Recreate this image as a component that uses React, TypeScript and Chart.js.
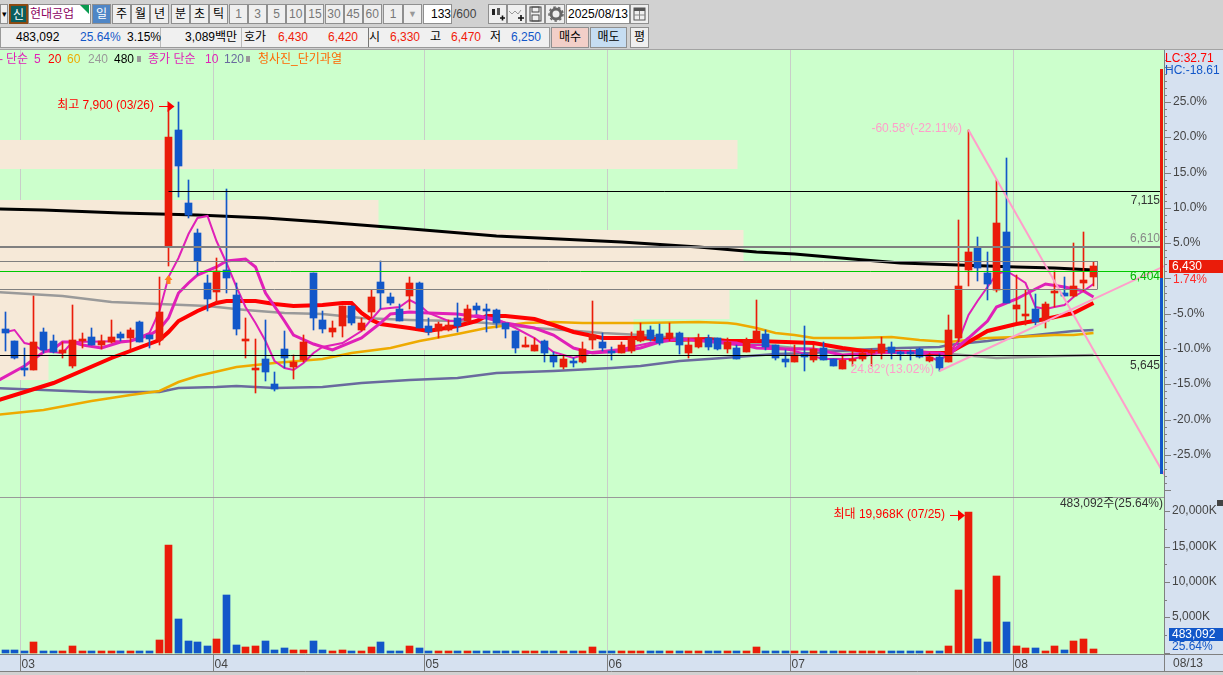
import React, { useEffect, useRef } from 'react';
import { Chart, registerables } from 'chart.js';
Chart.register(...registerables);

const opens = [
5870,5760,5520,5500,5840,5760,5650,5540,5760,5800,
5720,5750,5820,5790,5930,5810,5770,6610,7650,7000,
6730,6280,6200,6400,6170,5760,5500,5600,5370,5690,
5530,5590,6370,5950,5840,5890,6070,5860,6020,6290,
6150,6050,6160,6280,5890,5850,5860,5970,5940,6070,
6040,6040,5920,5850,5710,5670,5760,5630,5530,5580,
5570,5770,5750,5670,5650,5670,5760,5860,5820,5790,
5830,5650,5710,5790,5790,5690,5700,5660,5770,5820,
5720,5600,5570,5640,5590,5700,5600,5510,5580,5600,
5650,5650,5710,5650,5650,5690,5580,5620,5570,5790,
6400,6590,6370,6220,6740,6050,5980,6050,5940,6190,
6190,6160,6280,6330];
const closes = [
5830,5610,5500,5750,5680,5660,5680,5770,5780,5720,
5760,5800,5790,5860,5750,5780,6020,7590,7330,6890,
6480,6140,6390,6320,5870,5780,5510,5480,5330,5610,
5570,5750,5970,5870,5880,6070,5920,5920,6150,6190,
6100,5940,6280,5880,5840,5910,5900,5890,6050,6040,
6030,5920,5870,5700,5720,5720,5650,5570,5600,5560,
5690,5810,5700,5650,5720,5790,5850,5780,5740,5830,
5720,5720,5790,5710,5690,5750,5600,5770,5850,5710,
5610,5570,5630,5620,5690,5590,5540,5590,5600,5650,
5660,5730,5650,5640,5640,5620,5620,5520,5860,6250,
6560,6410,6270,6820,6100,6080,6000,5930,6090,6200,
6160,6250,6310,6430];
const highs = [
6020,5760,5700,6160,5880,5810,5750,6080,5830,5880,
5810,5950,5840,5880,5940,5810,6330,7830,7900,7200,
6760,6350,6500,7120,6280,5970,5780,5950,5480,5850,
5630,5810,6370,6030,5940,6070,6070,5970,6220,6480,
6190,6090,6330,6290,5970,5930,5950,6100,6080,6100,
6090,6050,5920,5850,5800,5790,5770,5660,5630,5610,
5750,6120,5830,5710,5750,5840,5920,5890,5910,5920,
5840,5790,5820,5810,5790,5790,5720,5790,6130,5860,
5720,5680,5720,5890,5720,5750,5600,5630,5670,5680,
5690,5800,5750,5670,5680,5700,5650,5640,5990,6840,
7650,6690,6560,7200,7400,6350,6220,6180,6110,6390,
6330,6640,6740,6470];
const lows = [
5670,5600,5450,5500,5650,5650,5610,5520,5700,5720,
5690,5740,5760,5680,5750,5700,5720,6430,7050,6860,
6350,6030,6100,6190,5810,5610,5290,5400,5310,5520,
5420,5570,5860,5830,5800,5800,5900,5850,5970,6050,
6080,5940,6050,5880,5810,5790,5850,5840,5920,6000,
5840,5880,5790,5650,5710,5670,5570,5530,5510,5530,
5560,5690,5670,5590,5650,5650,5750,5760,5720,5760,
5640,5610,5700,5680,5680,5650,5600,5660,5750,5680,
5590,5530,5570,5490,5570,5590,5540,5510,5540,5580,
5540,5600,5600,5590,5590,5610,5570,5490,5570,5750,
6250,6300,6130,6200,6100,5930,5900,5900,5880,6060,
6160,6150,6210,6250];
const volumes = [
420,420,280,1420,280,280,280,850,280,280,
140,280,140,280,280,280,1700,15290,4810,1560,
1420,850,1980,8210,1130,710,850,1560,420,570,
420,420,1560,420,280,420,280,280,710,1420,
280,280,850,570,280,140,140,280,280,280,
280,280,280,280,140,140,280,140,140,140,
140,710,140,140,140,280,280,100,100,100,
280,100,280,100,100,100,280,100,710,280,
280,100,100,280,100,100,100,100,100,100,
100,100,100,100,100,100,100,100,990,8920,
19968,1980,1420,10900,4250,850,570,570,280,850,
420,1560,1980,483];

const ma5Idx = [0,1,2,3,4,6,7,13,15,16,17,18,19,20,21,22,23,24,25,26,27,28,29,30,31,32,33,35,37,39,41,42,43,44,46,47,49,51,53,55,57,59,61,64,66,68,70,73,76,79,82,85,88,91,95,97,98,99,100,101,102,103,104,105,106,107,108,109,110,111,112,113];
const ma5Val = [5840,5860,5740,5720,5670,5650,5750,5760,5830,6030,6330,6500,6720,6860,6880,6660,6460,6240,6060,5920,5760,5580,5520,5500,5560,5650,5710,5740,5850,6050,6060,6130,6080,6010,5940,5940,5990,5960,5880,5790,5660,5610,5660,5690,5720,5760,5780,5750,5720,5720,5670,5600,5600,5660,5650,5580,5650,5760,5990,6120,6240,6360,6390,6330,6280,6060,6050,6060,6080,6150,6210,6270];
const ma10Idx = [-1,2,4,5,6,7,8,10,12,13,15,16,17,18,19,20,22,23,25,26,27,29,30,32,34,37,39,40,42,44,47,50,52,55,57,59,61,64,66,68,70,73,76,78,81,84,87,90,94,97,98,100,102,103,105,107,108,110,112,113];
const ma10Val = [5390,5540,5660,5690,5750,5750,5720,5700,5750,5760,5810,5870,5970,6190,6280,6350,6420,6480,6490,6420,6190,5940,5810,5730,5680,5790,5920,6000,6020,6010,6000,5970,5920,5880,5810,5700,5650,5670,5700,5750,5780,5760,5740,5700,5690,5690,5630,5650,5660,5650,5630,5790,5940,6060,6140,6230,6270,6240,6210,6150];
const ma20Idx = [-1,5,11,16,17,18,20,22,23,26,28,30,33,35,36,37,38,39,42,44,47,49,50,52,55,57,59,62,66,69,73,75,78,81,84,87,90,94,96,98,100,102,105,108,111,113];
const ma20Val = [5220,5380,5610,5770,5840,5940,6030,6100,6120,6120,6090,6070,6080,6100,6100,6010,5950,5910,5880,5850,5890,5940,5980,5980,5960,5900,5840,5790,5790,5770,5780,5760,5760,5750,5740,5700,5660,5660,5650,5650,5750,5850,5910,5960,6010,6100];
const ma60Idx = [-1,4,9,13,16,18,20,24,28,33,36,40,43,47,50,54,57,60,66,72,75,76,78,80,82,84,88,92,95,98,102,105,109,111,113];
const ma60Val = [5100,5140,5220,5280,5310,5390,5450,5530,5560,5600,5650,5700,5760,5820,5880,5920,5930,5920,5920,5930,5920,5910,5880,5830,5810,5790,5790,5800,5770,5750,5790,5800,5810,5810,5830];
const ma120Idx = [-1,4,9,16,18,22,24,28,33,37,42,47,51,57,63,66,70,73,76,80,84,88,93,97,98,102,105,109,111,113];
const ma120Val = [5340,5320,5300,5300,5340,5350,5360,5340,5350,5380,5410,5430,5470,5490,5520,5540,5580,5600,5620,5640,5650,5680,5700,5710,5720,5760,5800,5830,5850,5860];
const ma240Idx = [-1,6,11,16,21,25,29,33,37,42,47,50,55,58,62,66,71,77,82,87,92,97,103,106,113];
const ma240Val = [6200,6160,6110,6090,6070,6040,6010,6000,5970,5950,5940,5920,5880,5860,5830,5810,5780,5740,5700,5670,5660,5650,5610,5620,5630];
const ma480Idx = [-1,4,12,20,27,33,41,51,64,72,78,82,88,93,99,105,109,113];
const ma480Val = [6940,6930,6910,6890,6860,6830,6770,6700,6650,6600,6560,6540,6490,6460,6440,6420,6410,6400];

const trendDownIdx = [100, 120.4];
const trendDownVal = [7650, 4560];
const trendUpIdx = [97, 120.4];
const trendUpVal = [5490, 6436];

const monthPos = [1.55, 21.6, 43.55, 62.55, 81.6, 104.7];
const monthLabels = ['03', '04', '05', '06', '07', '08'];

// [left idx, right idx, upper price, lower price]
const zoneBoxes = [
  [-1, 76.1, 7560, 7300],
  [-1, 38.8, 7020, 6755],
  [-1, 76.7, 6755, 6480],
  [-1, 113.4, 6480, 6225],
  [-1, 75.2, 6225, 5960],
  [-1, 65.3, 5960, 5682],
  [-1, 4.5, 5682, 5413],
];

const X_MIN = -0.478, X_MAX = 120.4;
const BASE_PRICE = 6320;
const P_MAX = 8367, P_MIN = 4362;
const V_MAX = 22025, V_MIN = -354;
const pctTicks: number[] = [];
for (let p = 31; p >= -30; p--) pctTicks.push(p);
const volTicks: number[] = [];
for (let v = 0; v <= 22500; v += 2500) volTicks.push(v);

const RED = '#ea1c0a', BLUE = '#1257c9', GREEN_BG = '#ccffcc', BEIGE = '#f6e9d8', AXIS_BG = '#d6e1f0';
const PINK = '#ff9ecb', MAG = '#e020b8';
const FONT = '12px "Liberation Sans","Noto Sans CJK KR"';
const CSSFONT = '"Liberation Sans","Noto Sans CJK KR",sans-serif';
const GRID = '#c9cdc9';
const AXIS_LINE = '#808080';

const pts = (idx: number[], val: number[]) => idx.map((x, k) => ({ x, y: val[k] }));
const line = (idx: number[], val: number[], color: string, width: number, order: number) => ({
  type: 'line', data: pts(idx, val), borderColor: color, borderWidth: width,
  pointRadius: 0, tension: 0, order, fill: false,
});

function snap(s: any, extra: number) {
  if (s.__snapped) return;
  s.__snapped = true;
  const f = s.getPixelForValue.bind(s);
  s.getPixelForValue = (v: any, i: any) => Math.round(f(v, i)) + extra;
}
function noPad(s: any) { s.paddingTop = 0; s.paddingBottom = 0; s.paddingLeft = 0; s.paddingRight = 0; }

function text(ctx: any, t: string, x: number, y: number, color: string, align = 'left') {
  ctx.save();
  ctx.font = FONT; ctx.fillStyle = color; ctx.textAlign = align; ctx.textBaseline = 'middle';
  ctx.fillText(t, x, y);
  ctx.restore();
}
function hline(ctx: any, x1: number, x2: number, y: number, color: string, w: number) {
  ctx.save();
  ctx.strokeStyle = color; ctx.lineWidth = w; ctx.beginPath();
  const yy = w % 2 ? y + 0.5 : y;
  ctx.moveTo(x1, yy); ctx.lineTo(x2, yy); ctx.stroke(); ctx.restore();
}
function arrowRight(ctx: any, x1: number, x2: number, y: number, color: string) {
  ctx.save();
  ctx.strokeStyle = color; ctx.fillStyle = color; ctx.lineWidth = 1;
  ctx.beginPath(); ctx.moveTo(x1, y + 0.5); ctx.lineTo(x2 - 6, y + 0.5); ctx.stroke();
  ctx.beginPath(); ctx.moveTo(x2, y + 0.5); ctx.lineTo(x2 - 7, y - 5); ctx.lineTo(x2 - 7, y + 6); ctx.closePath(); ctx.fill();
  ctx.restore();
}

const pricePanelPlugin = {
  id: 'pricePanel',
  beforeDraw(c: any) {
    const { ctx, chartArea: a, width, height } = c;
    ctx.save();
    ctx.fillStyle = AXIS_BG; ctx.fillRect(a.right, 0, width - a.right, height);
    ctx.fillStyle = GREEN_BG; ctx.fillRect(0, 0, a.right, height);
    ctx.restore();
  },
  beforeDatasetsDraw(c: any) {
    const { ctx, scales: { x, y } } = c;
    ctx.save();
    ctx.fillStyle = BEIGE;
    zoneBoxes.forEach(([l, r, t, b]) => {
      const x1 = Math.max(0, x.getPixelForValue(l)), x2 = x.getPixelForValue(r);
      const y1 = y.getPixelForValue(t), y2 = y.getPixelForValue(b);
      ctx.fillRect(x1, y1, x2 - x1, y2 - y1);
    });
    ctx.restore();
  },
  afterDatasetsDraw(c: any) {
    const { ctx, chartArea: a, scales: { x, y } } = c;
    // horizontal levels
    hline(ctx, 0, a.right - 3, y.getPixelForValue(6600), '#808080', 2);
    hline(ctx, 0, x.getPixelForValue(113.4), y.getPixelForValue(6480), '#808080', 1);
    hline(ctx, 0, x.getPixelForValue(113.4), y.getPixelForValue(6225), '#808080', 1);
    hline(ctx, 0, a.right - 3, y.getPixelForValue(6390), '#00c800', 1);
    hline(ctx, x.getPixelForValue(17), a.right - 3, y.getPixelForValue(7100), '#000000', 1);
    hline(ctx, 0, a.right - 3, y.getPixelForValue(5635), '#000000', 1);
    ctx.save();
    ctx.strokeStyle = '#808080'; ctx.lineWidth = 1;
    const bx = x.getPixelForValue(113.4);
    ctx.beginPath(); ctx.moveTo(bx, y.getPixelForValue(6480)); ctx.lineTo(bx, y.getPixelForValue(6225)); ctx.stroke();
    ctx.restore();

    // range rail
    ctx.save();
    const base = y.getPixelForValue(BASE_PRICE);
    ctx.fillStyle = RED; ctx.fillRect(1160, y.getPixelForValue(8196), 3, base - y.getPixelForValue(8196));
    ctx.fillStyle = BLUE; ctx.fillRect(1160, base, 3, y.getPixelForValue(4568) - base);
    ctx.restore();

    // level labels
    text(ctx, '7,115', 1160, y.getPixelForValue(7011), '#333333', 'right');
    text(ctx, '6,610', 1160, y.getPixelForValue(6670), '#888888', 'right');
    text(ctx, '6,404', 1160, y.getPixelForValue(6330), '#00b400', 'right');
    text(ctx, '5,645', 1160, y.getPixelForValue(5538), '#333333', 'right');

    // annotations
    text(ctx, '최고 7,900 (03/26)', 154, y.getPixelForValue(7864), '#ff0000', 'right');
    arrowRight(ctx, 159, x.getPixelForValue(17.6), y.getPixelForValue(7864), '#ff0000');
    text(ctx, '-60.58°(-22.11%)', 962, y.getPixelForValue(7658), PINK, 'right');
    text(ctx, '24.82°(13.02%)', 934, y.getPixelForValue(5500), PINK, 'right');

    // orange arrow marker
    const mx = x.getPixelForValue(17), my = y.getPixelForValue(6310);
    ctx.save();
    ctx.fillStyle = '#ff7f1e';
    ctx.beginPath();
    ctx.moveTo(mx, my - 5); ctx.lineTo(mx + 4, my); ctx.lineTo(mx + 2, my); ctx.lineTo(mx + 2, my + 4);
    ctx.lineTo(mx - 2, my + 4); ctx.lineTo(mx - 2, my); ctx.lineTo(mx - 4, my); ctx.closePath(); ctx.fill();
    ctx.restore();
  },
  afterDraw(c: any) {
    const { ctx, chartArea: a, scales: { y }, width } = c;
    ctx.save();
    ctx.strokeStyle = AXIS_LINE; ctx.lineWidth = 1;
    pctTicks.forEach((p) => {
      const py = y.getPixelForValue(BASE_PRICE * (1 + p / 100)) + 0.5;
      const len = p % 5 === 0 ? 7 : 3;
      ctx.beginPath(); ctx.moveTo(a.right, py); ctx.lineTo(a.right + len, py); ctx.stroke();
    });
    ctx.restore();
    // current price tag
    const tagY = y.getPixelForValue(6430);
    ctx.save();
    ctx.fillStyle = RED; ctx.fillRect(1169, tagY - 6, width - 1169, 13);
    ctx.restore();
    text(ctx, '6,430', 1172, tagY + 0.5, '#ffffff');
    text(ctx, '1.74%', 1173, tagY + 14, '#ff2a2a');
    text(ctx, 'LC:32.71', 1165, 8.5, '#ff0000');
    text(ctx, 'HC:-18.61', 1165, 20.5, '#1257c9');
  },
};

const volumePanelPlugin = {
  id: 'volumePanel',
  beforeDraw(c: any) {
    const { ctx, chartArea: a, width, height } = c;
    ctx.save();
    ctx.fillStyle = AXIS_BG; ctx.fillRect(0, 0, width, height);
    ctx.fillStyle = GREEN_BG; ctx.fillRect(0, 0, a.right, a.bottom);
    ctx.restore();
  },
  afterDraw(c: any) {
    const { ctx, chartArea: a, scales: { x, y }, width, height } = c;
    hline(ctx, 0, a.right, 0, '#999999', 1);
    hline(ctx, 0, width, a.bottom - 1, '#808080', 1);
    hline(ctx, 0, width, height - 1, '#808080', 1);
    ctx.save();
    ctx.strokeStyle = AXIS_LINE; ctx.lineWidth = 1;
    monthPos.forEach((m) => {
      const px = x.getPixelForValue(m);
      ctx.beginPath(); ctx.moveTo(px, a.bottom); ctx.lineTo(px, height); ctx.stroke();
    });
    ctx.beginPath(); ctx.moveTo(a.right + 0.5, 0); ctx.lineTo(a.right + 0.5, height); ctx.stroke();
    volTicks.forEach((v) => {
      const py = y.getPixelForValue(v) + 0.5;
      const len = v % 5000 === 0 ? 6 : 3;
      ctx.beginPath(); ctx.moveTo(a.right, py); ctx.lineTo(a.right + len, py); ctx.stroke();
    });
    ctx.restore();
    text(ctx, '08/13', 1173, a.bottom + 8.5, '#444444');
    text(ctx, '483,092주(25.64%)', 1163, y.getPixelForValue(21030), '#333333', 'right');
    text(ctx, '최대 19,968K (07/25)', 945, y.getPixelForValue(19476), '#ff0000', 'right');
    arrowRight(ctx, 950, 965, y.getPixelForValue(19476), '#ff0000');
    // last volume tag
    const tagTop = 628 - 497;
    ctx.save();
    ctx.fillStyle = BLUE; ctx.fillRect(1169, tagTop, width - 1169, 13);
    ctx.fillStyle = '#444444'; ctx.fillRect(1217, 3, 6, 6);
    ctx.restore();
    text(ctx, '483,092', 1172, tagTop + 6.5, '#ffffff');
    text(ctx, '25.64%', 1172, tagTop + 19, '#1257c9');
  },
};

function Box(p: any) {
  const { x, y, w, h, bg = '#efefef', color = '#000', border = '1px solid #8f8f8f', size = 12, align = 'center', children, pad = 0 } = p;
  return (
    <div style={{
      position: 'absolute', left: x, top: y, width: w, height: h, boxSizing: 'border-box', background: bg, color,
      border, fontSize: size, lineHeight: `${h - 2}px`, textAlign: align, overflow: 'hidden', paddingLeft: pad, whiteSpace: 'nowrap',
    }}>{children}</div>
  );
}
function Txt(p: any) {
  const { x, y, color = '#000', size = 12, children, w, align = 'left' } = p;
  return <span style={{ position: 'absolute', left: x, top: y, color, fontSize: size, lineHeight: '15px', whiteSpace: 'nowrap', width: w, textAlign: align }}>{children}</span>;
}

const periodBtns = ['1', '3', '5', '10', '15', '30', '45', '60'];
const unitBtns = [['주', 112], ['월', 131], ['년', 150], ['분', 171], ['초', 190], ['틱', 209]];

export default function App() {
  const priceRef = useRef<HTMLCanvasElement>(null);
  const volRef = useRef<HTMLCanvasElement>(null);

  useEffect(() => {
    const idx = opens.map((_, i) => i);
    const colors = opens.map((o, i) => (closes[i] >= o ? RED : BLUE));
    const xBase = (extra: any) => ({
      type: 'linear', min: X_MIN, max: X_MAX, offset: false,
      afterBuildTicks(s: any) { s.ticks = monthPos.map((value) => ({ value })); snap(s, 0.5); },
      ...extra,
    });

    const price = new Chart(priceRef.current as any, {
      type: 'bar',
      data: {
        datasets: [
          line(trendDownIdx, trendDownVal, PINK, 2, 0),
          line(trendUpIdx, trendUpVal, PINK, 2, 0),
          { type: 'bar', data: idx.map((i) => ({ x: i, y: [opens[i], closes[i]] })), backgroundColor: colors, barThickness: 7, minBarLength: 2, order: 1 },
          { type: 'bar', data: idx.map((i) => ({ x: i, y: [lows[i], highs[i]] })), backgroundColor: colors, barThickness: 1, order: 2 },
          line(ma5Idx, ma5Val, MAG, 2, 3),
          line(ma10Idx, ma10Val, MAG, 3, 4),
          line(ma20Idx, ma20Val, '#ff0000', 4, 5),
          line(ma60Idx, ma60Val, '#eeaa00', 2.5, 6),
          line(ma120Idx, ma120Val, '#6a6a9e', 2.5, 7),
          line(ma240Idx, ma240Val, '#9a9a9a', 2.5, 8),
          line(ma480Idx, ma480Val, '#000000', 3, 9),
        ] as any,
      },
      options: {
        responsive: false, animation: false, devicePixelRatio: 1, events: [],
        layout: { padding: 0 },
        datasets: { bar: { grouped: false } },
        plugins: { legend: { display: false }, tooltip: { enabled: false } },
        scales: {
          x: xBase({
            display: true,
            ticks: { display: false },
            grid: { color: GRID, drawTicks: false, lineWidth: 1, offset: false },
            border: { display: false },
            afterFit(s: any) { s.height = 0; noPad(s); },
          }),
          y: {
            type: 'linear', position: 'right', min: P_MIN, max: P_MAX,
            afterFit(s: any) { s.width = 59; noPad(s); },
            afterBuildTicks(s: any) { s.ticks = pctTicks.map((p) => ({ value: BASE_PRICE * (1 + p / 100) })); snap(s, 0); },
            ticks: {
              autoSkip: false, padding: 9, color: '#444444',
              font: { family: '"Liberation Sans"', size: 12 },
              callback(_v: any, i: number) {
                const p = pctTicks[i];
                return p % 5 === 0 && p !== 0 && Math.abs(p) <= 25 ? `${p.toFixed(1)}%` : '';
              },
            },
            grid: { display: false, drawTicks: false },
            border: { display: true, color: AXIS_LINE },
          },
        },
      } as any,
      plugins: [pricePanelPlugin],
    } as any);

    const vol = new Chart(volRef.current as any, {
      type: 'bar',
      data: {
        datasets: [{ data: idx.map((i) => ({ x: i, y: volumes[i] })), backgroundColor: colors, barThickness: 7, minBarLength: 2 }],
      },
      options: {
        responsive: false, animation: false, devicePixelRatio: 1, events: [],
        layout: { padding: 0 },
        plugins: { legend: { display: false }, tooltip: { enabled: false } },
        scales: {
          x: xBase({
            position: 'bottom',
            afterFit(s: any) { s.height = 17; noPad(s); },
            ticks: {
              autoSkip: false, maxRotation: 0, align: 'start', padding: 2, color: '#444444',
              font: { family: '"Liberation Sans"', size: 12 },
              callback(_v: any, i: number) { return '\u200a' + monthLabels[i]; },
            },
            grid: { color: GRID, drawTicks: false, lineWidth: 1, offset: false },
            border: { display: false },
          }),
          y: {
            type: 'linear', position: 'right', min: V_MIN, max: V_MAX,
            afterFit(s: any) { s.width = 59; noPad(s); },
            afterBuildTicks(s: any) { s.ticks = volTicks.map((value) => ({ value })); snap(s, 0); },
            ticks: {
              autoSkip: false, padding: 8, color: '#444444',
              font: { family: '"Liberation Sans"', size: 12 },
              callback(v: any) { return v > 0 && v % 5000 === 0 ? `${v.toLocaleString('en-US')}K` : ''; },
            },
            grid: { display: false, drawTicks: false },
            border: { display: false },
          },
        },
      } as any,
      plugins: [volumePanelPlugin],
    } as any);

    return () => { price.destroy(); vol.destroy(); };
  }, []);

  return (
    <div style={{ position: 'fixed', left: 0, top: 0, width: 1223, height: 675, background: '#d1d1d1', overflow: 'hidden', fontFamily: CSSFONT }}>
      {/* toolbar row 1 */}
      <Box x={0} y={4} w={8} h={20} size={9}>▾</Box>
      <Box x={9} y={4} w={19} h={20} bg="#0b5f5f" color="#fff" border="2px solid #8b4a12">신</Box>
      <Box x={28} y={4} w={63} h={20} bg="#fff" color="#8b0060" align="left" pad={1}>현대공업</Box>
      <div style={{ position: 'absolute', left: 80, top: 5, width: 0, height: 0, borderTop: '9px solid #0a9a50', borderLeft: '9px solid transparent' }} />
      <Box x={92} y={4} w={19} h={20} bg="#4f86c6" color="#fff">일</Box>
      {unitBtns.map(([t, x]) => <Box key={t as string} x={x} y={4} w={19} h={20}>{t}</Box>)}
      {periodBtns.map((t, i) => <Box key={t} x={229 + i * 19.1} y={4} w={19} h={20} color="#777">{t}</Box>)}
      <Box x={383} y={4} w={20} h={20} color="#777">1</Box>
      <Box x={403} y={4} w={19} h={20} color="#999" size={9}>▼</Box>
      <Box x={423} y={4} w={29} h={20} bg="#fff" align="right">133</Box>
      <Txt x={453} y={7} color="#444">/600</Txt>
      <Box x={488} y={4} w={19} h={20}>
        <svg width="17" height="18"><rect x="3" y="4" width="3" height="6" fill="#222" /><rect x="8" y="3" width="3" height="7" fill="#555" /><path d="M11 13h5M13.5 10.5v5" stroke="#111" strokeWidth="1.6" /></svg>
      </Box>
      <Box x={507} y={4} w={19} h={20}>
        <svg width="17" height="18"><path d="M1 6l3 3 3-3 3 3 3-4" stroke="#999" fill="none" /><path d="M10 13h6M13 10v6" stroke="#111" strokeWidth="1.6" /></svg>
      </Box>
      <Box x={526} y={4} w={19} h={20}>
        <svg width="17" height="18"><rect x="3" y="2" width="11" height="14" fill="none" stroke="#444" /><rect x="5" y="2" width="7" height="5" fill="none" stroke="#444" /><rect x="5" y="10" width="7" height="6" fill="none" stroke="#444" /></svg>
      </Box>
      <Box x={545} y={4} w={20} h={20}>
        <svg width="17" height="18"><circle cx="9" cy="9" r="5" fill="none" stroke="#666" strokeWidth="3" /><circle cx="9" cy="9" r="7" fill="none" stroke="#666" strokeWidth="1.5" strokeDasharray="2.5 2.5" /></svg>
      </Box>
      <Box x={566} y={4} w={64} h={20} bg="#fff">2025/08/13</Box>
      <Box x={630} y={4} w={19} h={20}>
        <svg width="17" height="18"><rect x="3" y="3" width="11" height="12" fill="none" stroke="#555" /><rect x="3" y="3" width="11" height="3" fill="#555" /><path d="M3 10h11M8.5 6v9" stroke="#888" /></svg>
      </Box>

      {/* toolbar row 2 */}
      <div style={{ position: 'absolute', left: 0, top: 27, width: 550, height: 21, boxSizing: 'border-box', background: '#f0f0f0', border: '1px solid #9a9a9a' }} />
      <div style={{ position: 'absolute', left: 160, top: 28, width: 1, height: 19, background: '#bbb' }} />
      <div style={{ position: 'absolute', left: 241, top: 28, width: 1, height: 19, background: '#bbb' }} />
      <div style={{ position: 'absolute', left: 368, top: 28, width: 1, height: 19, background: '#777' }} />
      <Txt x={16} y={30}>483,092</Txt>
      <Txt x={80} y={30} color="#1257c9">25.64%</Txt>
      <Txt x={127} y={30}>3.15%</Txt>
      <Txt x={185} y={30}>3,089백만</Txt>
      <Txt x={244} y={30}>호가</Txt>
      <Txt x={278} y={30} color="#f01c0a">6,430</Txt>
      <Txt x={328} y={30} color="#f01c0a">6,420</Txt>
      <Txt x={369} y={30}>시</Txt>
      <Txt x={390} y={30} color="#f01c0a">6,330</Txt>
      <Txt x={430} y={30}>고</Txt>
      <Txt x={451} y={30} color="#f01c0a">6,470</Txt>
      <Txt x={490} y={30}>저</Txt>
      <Txt x={511} y={30} color="#1257c9">6,250</Txt>
      <Box x={551} y={27} w={38} h={21} bg="#f2cfc8">매수</Box>
      <Box x={590} y={27} w={37} h={21} bg="#c6ddf2">매도</Box>
      <Box x={630} y={27} w={19} h={21}>평</Box>

      <div style={{ position: 'absolute', left: 0, top: 49, width: 1223, height: 1, background: '#a3a3a3' }} />
      <canvas ref={priceRef} width={1223} height={447} style={{ position: 'absolute', left: 0, top: 50, display: 'block' }} />
      <canvas ref={volRef} width={1223} height={175} style={{ position: 'absolute', left: 0, top: 497, display: 'block' }} />

      {/* indicator legend */}
      <Txt x={-1} y={52} color="#e020b8">-</Txt>
      <Txt x={6} y={52} color="#e020b8">단순</Txt>
      <Txt x={34} y={52} color="#e020b8">5</Txt>
      <Txt x={48} y={52} color="#ff0000">20</Txt>
      <Txt x={67} y={52} color="#eeaa00">60</Txt>
      <Txt x={88} y={52} color="#9a9a9a">240</Txt>
      <Txt x={114} y={52} color="#000">480</Txt>
      <div style={{ position: 'absolute', left: 137, top: 56, width: 4, height: 6, background: '#999' }} />
      <Txt x={148} y={52} color="#e020b8">종가 단순</Txt>
      <Txt x={205} y={52} color="#e020b8">10</Txt>
      <Txt x={224} y={52} color="#6a6a9e">120</Txt>
      <div style={{ position: 'absolute', left: 246, top: 56, width: 4, height: 6, background: '#999' }} />
      <Txt x={258} y={52} color="#ff6600">청사진_단기과열</Txt>
    </div>
  );
}
